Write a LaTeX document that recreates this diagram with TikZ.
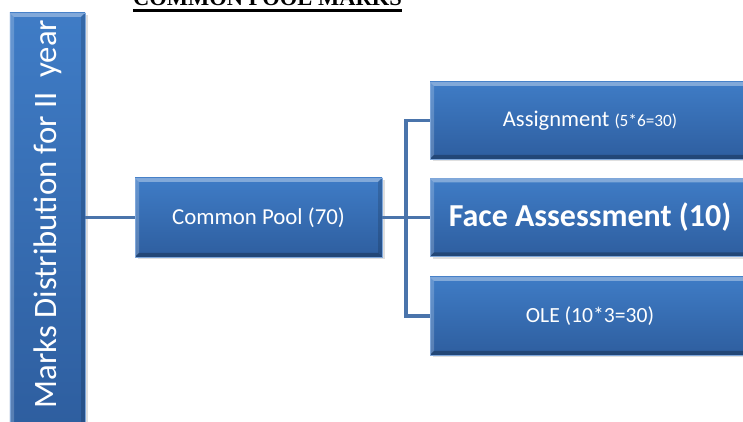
\documentclass[tikz,border=0pt]{standalone}
\usepackage{fontspec}
\usepackage{tikz}
\usetikzlibrary{calc,shadows}
\newfontfamily\calib{Carlito}
\newfontfamily\titlefont{Liberation Serif}
\definecolor{boxtop}{HTML}{3F7CC6}
\definecolor{boxbot}{HTML}{2E5E9F}
\definecolor{boxline}{HTML}{7FA7DA}
\definecolor{linecol}{HTML}{4A74AB}

\begin{document}
\begin{tikzpicture}[
  bevel/.style={path picture={
    \coordinate (nw) at (path picture bounding box.north west);
    \coordinate (ne) at (path picture bounding box.north east);
    \coordinate (sw) at (path picture bounding box.south west);
    \coordinate (se) at (path picture bounding box.south east);
    \fill[white,opacity=0.35] (nw) -- (ne) -- ++(-0.08,-0.08) -- ($(nw)+(0.08,-0.08)$) -- cycle;
    \fill[white,opacity=0.2] (nw) -- (sw) -- ++(0.08,0.08) -- ($(nw)+(0.08,-0.08)$) -- cycle;
    \fill[black,opacity=0.25] (sw) -- (se) -- ++(-0.08,0.08) -- ($(sw)+(0.08,0.08)$) -- cycle;
    \fill[black,opacity=0.15] (ne) -- (se) -- ++(-0.08,0.08) -- ($(ne)+(-0.08,-0.08)$) -- cycle;
  }},
  box/.style={rectangle, inner sep=0pt, top color=boxtop, bottom color=boxbot,
    draw=boxline, line width=0.5pt, text=white, bevel,
    drop shadow={opacity=0.25, shadow xshift=0.05cm, shadow yshift=-0.05cm}},
  conn/.style={draw=linecol, line width=2pt}
]
\useasboundingbox (0,0) rectangle (14.86,8.44);
\clip (0,0) rectangle (14.86,8.44);

% Title (cut off at the top)
\node[anchor=base, inner sep=0pt, font=\titlefont\bfseries\fontsize{12.8}{14}\selectfont] (title) at (5.35,8.33) {COMMON POOL MARKS};
\draw[line width=1.8pt] ([yshift=-3pt]title.base west) -- ([yshift=-3pt]title.base east);

% Left: vertical box
\node[box, minimum width=1.5cm, minimum height=8.34cm, font=\calib\fontsize{18.6}{20}\selectfont] (marks) at (0.95,4.01)
  {\rotatebox{90}{\hspace*{0.3cm}Marks Distribution for II\ \ year}};

% Middle
\node[box, minimum width=4.94cm, minimum height=1.58cm, font=\calib\fontsize{13}{15}\selectfont] (common) at (5.17,4.09) {Common Pool (70)};

% Right: three parts
\node[box, minimum width=6.4cm, minimum height=1.54cm, font=\calib\fontsize{12.8}{15}\selectfont] (assign) at (11.8,6.03)
  {Assignment {\fontsize{9.8}{12}\selectfont (5*6=30)}};
\node[box, minimum width=6.4cm, minimum height=1.56cm, font=\calib\bfseries\fontsize{18.2}{20}\selectfont] (face) at (11.8,4.09) {Face Assessment (10)};
\node[box, minimum width=6.4cm, minimum height=1.56cm, font=\calib\fontsize{12.3}{15}\selectfont] (ole) at (11.8,2.12) {OLE (10*3=30)};

% Connectors
\coordinate (bus) at (8.12,4.09);
\draw[conn] (marks.east |- common.west) -- (common.west);
\draw[conn] (common.east) -- (face.west);
\draw[conn] (assign.west) -| (bus) |- (ole.west);
\end{tikzpicture}
\end{document}
